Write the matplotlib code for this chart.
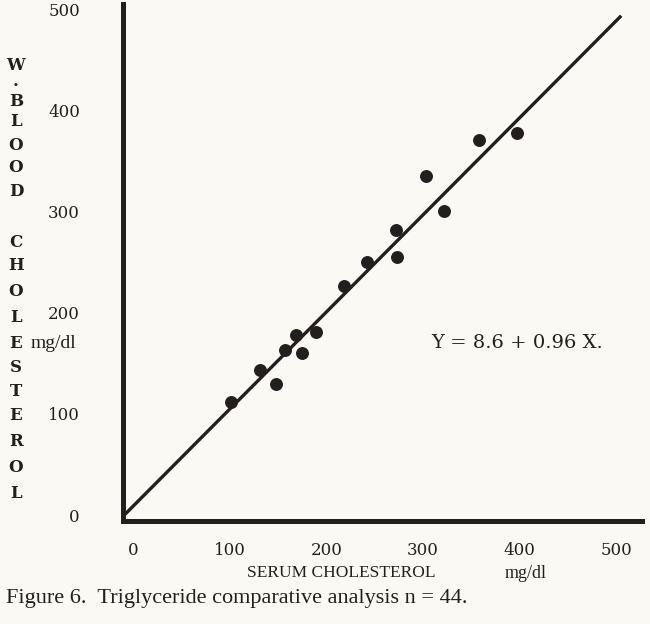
import matplotlib
matplotlib.use("Agg")
import matplotlib.pyplot as plt
import numpy as np

# serum cholesterol (x) vs whole blood cholesterol (y), mg/dl
serum_chol = [101, 131, 148, 157, 169, 175, 189, 218, 242, 272, 273, 303, 322, 358, 397]
blood_chol = [112, 143, 129, 163, 178, 160, 181, 226, 250, 282, 255, 335, 300, 371, 378]

# regression Y = a + b X
intercept = 8.6
slope = 0.96
line_x = [-10, 505]

x_ticks = [0, 100, 200, 300, 400, 500]
y_ticks = [0, 100, 200, 300, 400, 500]

ylabel_letters = ["W", ".", "B", "L", "O", "O", "D",
                  "C", "H", "O", "L", "E", "S", "T", "E", "R", "O", "L"]
ylabel_rows = [65, 81, 101, 121, 145, 168, 192,
               243, 266, 291, 318, 343, 368, 392, 416, 442, 468, 494]

ink = "#231f1f"
paper = "#fbf9f3"

W, H = 650, 624
fig = plt.figure(figsize=(6.5, 6.24), dpi=100, facecolor=paper)
ax = fig.add_axes([123 / W, 1 - 521 / H, (642 - 123) / W, (521 - 4) / H])
ax.set_facecolor(paper)

ax.set_xlim(-10.3, 526.5)
ax.set_ylim(-5.9, 505)

ax.plot(serum_chol, blood_chol, "o", color=ink, markersize=8.3, zorder=3)
lx = np.array(line_x)
ax.plot(lx, intercept + slope * lx, color=ink, linewidth=2.4, solid_capstyle="butt")

for s in ["top", "right"]:
    ax.spines[s].set_visible(False)
for s in ["left", "bottom"]:
    ax.spines[s].set_linewidth(3.6)
    ax.spines[s].set_color(ink)

ax.set_xticks(x_ticks)
ax.set_yticks(y_ticks)
ax.set_xticklabels([str(t) for t in x_ticks], family="DejaVu Serif", fontsize=12, color=ink)
ax.set_yticklabels([str(t) for t in y_ticks], family="DejaVu Serif", fontsize=12, color=ink)
ax.tick_params(axis="x", length=0, pad=15)
ax.tick_params(axis="y", length=0, pad=31)

ax.text(0.76, 0.345, "Y = 8.6 + 0.96 X.", transform=ax.transAxes, family="DejaVu Serif",
        fontsize=14, color=ink, ha="center", va="center")

# stacked vertical y label
for letter, row in zip(ylabel_letters, ylabel_rows):
    fig.text(16 / W, 1 - row / H, letter, family="DejaVu Serif", fontsize=12,
             fontweight="bold", color=ink, ha="center", va="center")
fig.text(31 / W, 1 - 343 / H, "mg/dl", family="Liberation Serif", fontsize=14,
         color=ink, ha="left", va="center")

fig.text(247 / W, 1 - 573 / H, "SERUM CHOLESTEROL", family="Liberation Serif",
         fontsize=12.5, color=ink, ha="left", va="center")
fig.text(505 / W, 1 - 573 / H, "mg/dl", family="Liberation Serif",
         fontsize=13, color=ink, ha="left", va="center")

fig.text(6 / W, 1 - 598 / H, "Figure 6.  Triglyceride comparative analysis n = 44.",
         family="Liberation Serif", fontsize=16, color=ink, ha="left", va="center")

fig.savefig("out.png", dpi=100, facecolor=paper)
